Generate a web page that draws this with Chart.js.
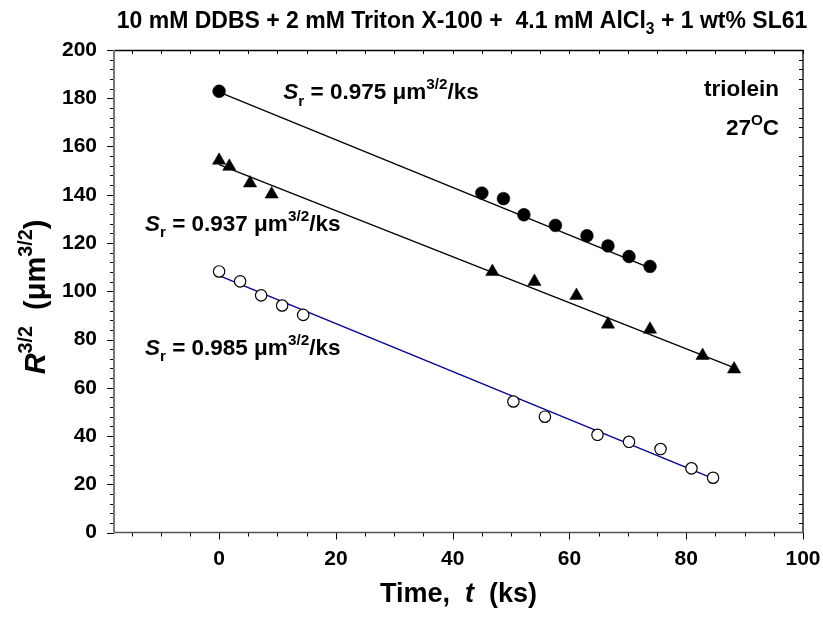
<!DOCTYPE html>
<html>
<head>
<meta charset="utf-8">
<script src="https://cdn.jsdelivr.net/npm/chart.js@4.4.0/dist/chart.umd.min.js"></script>
<style>
  body { margin: 0; background: #fff; }
  canvas { display: block; }
</style>
</head>
<body>
<canvas id="chart" width="823" height="625"></canvas>
<script>
// time (ks) and R^3/2 (um^3/2)
const filledT = [0, 45.0, 48.7, 52.2, 57.6, 63.0, 66.6, 70.2, 73.8];
const filledR = [182.9, 140.7, 138.4, 131.7, 127.3, 123.0, 118.8, 114.4, 110.3];

const triT = [0, 1.75, 5.3, 9.0, 46.8, 54.0, 61.2, 66.6, 73.8, 82.8, 88.2];
const triR = [154.2, 151.7, 144.8, 140.2, 108.1, 104.0, 98.2, 86.3, 84.2, 73.3, 67.7];

const openT = [0, 3.6, 7.2, 10.8, 14.4, 50.4, 55.8, 64.8, 70.2, 75.6, 80.9, 84.6];
const openR = [108.2, 104.1, 98.3, 94.1, 90.2, 54.3, 48.0, 40.5, 37.6, 34.6, 26.6, 22.7];

// fitted lines (end points)
const fitFilledT = [0, 74.5];
const fitFilledR = [182.5, 109.0];
const fitTriT = [0, 88.5];
const fitTriR = [152.5, 68.0];
const fitOpenT = [0, 85.5];
const fitOpenR = [106.5, 21.5];

const xTicks = [0, 20, 40, 60, 80, 100];
const yTicks = [0, 20, 40, 60, 80, 100, 120, 140, 160, 180, 200];
const xMin = -18, xMax = 100, xMinor = 5;
const yMin = 0, yMax = 200, yMinor = 4;

const FONT = '"Liberation Sans", Arial, Helvetica, sans-serif';

const pts = (xs, ys) => xs.map((x, i) => ({ x: x, y: ys[i] }));

// text with italic / sub / sup pieces
function richWidth(ctx, parts, size) {
  let w = 0;
  parts.forEach(p => {
    const s = (p.sub || p.sup) ? size * 0.68 : size;
    ctx.font = (p.it ? 'italic ' : '') + 'bold ' + s + 'px ' + FONT;
    w += ctx.measureText(p.t).width;
  });
  return w;
}
function drawRich(ctx, x, y, parts, size, align) {
  const w = richWidth(ctx, parts, size);
  let cx = align === 'right' ? x - w : align === 'center' ? x - w / 2 : x;
  ctx.textBaseline = 'alphabetic';
  ctx.textAlign = 'left';
  ctx.fillStyle = '#000';
  parts.forEach(p => {
    const s = (p.sub || p.sup) ? size * 0.68 : size;
    ctx.font = (p.it ? 'italic ' : '') + 'bold ' + s + 'px ' + FONT;
    let dy = 0;
    if (p.sub) dy = size * 0.28;
    if (p.sup) dy = -size * 0.45;
    ctx.fillText(p.t, cx, y + dy);
    cx += ctx.measureText(p.t).width;
  });
}

const srText = val => [
  { t: 'S', it: true }, { t: 'r', sub: true },
  { t: ' = ' + val + ' \u03BCm' }, { t: '3/2', sup: true }, { t: '/ks' }
];

// annotations anchored in data coordinates
const notes = [
  { t: 11.0, v: 179.5, parts: srText('0.975'), align: 'left' },
  { t: -12.7, v: 124.9, parts: srText('0.937'), align: 'left' },
  { t: -12.7, v: 73.7, parts: srText('0.985'), align: 'left' },
  { t: 95.9, v: 181.1, parts: [{ t: 'triolein' }], align: 'right' },
  { t: 95.9, v: 164.9, parts: [{ t: '27' }, { t: 'O', sup: true }, { t: 'C' }], align: 'right' }
];

const framePlugin = {
  id: 'frame',
  afterDraw(chart) {
    const ctx = chart.ctx;
    const a = chart.chartArea;
    const xs = chart.scales.x, ys = chart.scales.y;
    ctx.save();

    // ticks
    ctx.strokeStyle = '#000';
    ctx.lineWidth = 1;
    for (let v = -15; v <= xMax; v += xMinor) {
      const px = Math.round(xs.getPixelForValue(v)) + 0.5;
      const major = v >= 0 && v % 20 === 0;
      ctx.beginPath();
      ctx.moveTo(px, a.bottom);
      ctx.lineTo(px, a.bottom + (major ? 7 : 4));
      ctx.moveTo(px, a.top);
      ctx.lineTo(px, a.top + 4);
      ctx.stroke();
    }
    for (let v = yMin; v <= yMax; v += yMinor) {
      const py = Math.round(ys.getPixelForValue(v)) + 0.5;
      const major = v % 20 === 0;
      ctx.beginPath();
      ctx.moveTo(a.left, py);
      ctx.lineTo(a.left - (major ? 7 : 4), py);
      if (!major) {
        ctx.moveTo(a.right, py);
        ctx.lineTo(a.right - 4, py);
      }
      ctx.stroke();
    }

    // box
    ctx.lineWidth = 1.3;
    ctx.strokeStyle = '#000';
    ctx.beginPath();
    ctx.moveTo(a.left, a.top + 0.5);
    ctx.lineTo(a.right, a.top + 0.5);
    ctx.lineTo(a.right, a.bottom);
    ctx.stroke();
    ctx.strokeStyle = '#555';
    ctx.lineWidth = 1.6;
    ctx.beginPath();
    ctx.moveTo(a.right, a.bottom);
    ctx.lineTo(a.left, a.bottom);
    ctx.stroke();
    ctx.strokeStyle = '#777';
    ctx.lineWidth = 2;
    ctx.beginPath();
    ctx.moveTo(a.left, a.bottom);
    ctx.lineTo(a.left, a.top);
    ctx.stroke();

    // annotations
    notes.forEach(n => {
      drawRich(ctx, xs.getPixelForValue(n.t), ys.getPixelForValue(n.v), n.parts, 22.5, n.align);
    });

    // title
    drawRich(ctx, 462, 28, [
      { t: '10 mM DDBS + 2 mM Triton X-100 +  4.1 mM AlCl' }, { t: '3', sub: true },
      { t: ' + 1 wt% SL61' }
    ], 23, 'center');

    // x axis title
    drawRich(ctx, (a.left + a.right) / 2, 602, [
      { t: 'Time,  ' }, { t: 't', it: true }, { t: '  (ks)' }
    ], 27, 'center');

    // y axis title
    ctx.save();
    ctx.translate(45, 297);
    ctx.rotate(-Math.PI / 2);
    drawRich(ctx, 0, 0, [
      { t: 'R', it: true }, { t: '3/2', sup: true }, { t: '  (\u03BCm' }, { t: '3/2', sup: true }, { t: ')' }
    ], 29, 'center');
    ctx.restore();

    ctx.restore();
  }
};

new Chart(document.getElementById('chart'), {
  type: 'scatter',
  data: {
    datasets: [
      {
        data: pts(filledT, filledR), pointStyle: 'circle', pointRadius: 6.4,
        backgroundColor: '#000', borderColor: '#000', borderWidth: 0.5, order: 1
      },
      {
        data: pts(triT, triR), pointStyle: 'triangle', pointRadius: 7.7,
        backgroundColor: '#000', borderColor: '#000', borderWidth: 0.5, order: 1
      },
      {
        data: pts(openT, openR), pointStyle: 'circle', pointRadius: 5.7,
        backgroundColor: '#fff', borderColor: '#000', borderWidth: 1.2, order: 1
      },
      {
        data: pts(fitFilledT, fitFilledR), showLine: true, pointRadius: 0,
        borderColor: '#000', borderWidth: 1.3, order: 2
      },
      {
        data: pts(fitTriT, fitTriR), showLine: true, pointRadius: 0,
        borderColor: '#000', borderWidth: 1.3, order: 2
      },
      {
        data: pts(fitOpenT, fitOpenR), showLine: true, pointRadius: 0,
        borderColor: '#00008b', borderWidth: 1.3, order: 2
      }
    ]
  },
  options: {
    responsive: false,
    animation: false,
    events: [],
    layout: { padding: { left: 0, right: 20, top: 50, bottom: 0 } },
    plugins: { legend: { display: false }, tooltip: { enabled: false } },
    scales: {
      x: {
        type: 'linear', min: xMin, max: xMax,
        grid: { display: false, drawTicks: false },
        border: { display: false },
        afterBuildTicks: s => { s.ticks = xTicks.map(v => ({ value: v })); },
        afterFit: s => { s.height = 92.5; s.paddingLeft = 0; s.paddingRight = 0; },
        ticks: {
          padding: 14, color: '#000', autoSkip: false, maxRotation: 0,
          font: { family: FONT, size: 21, weight: 'bold' }
        }
      },
      y: {
        type: 'linear', min: yMin, max: yMax,
        grid: { display: false, drawTicks: false },
        border: { display: false },
        afterBuildTicks: s => { s.ticks = yTicks.map(v => ({ value: v })); },
        afterFit: s => { s.width = 114; s.paddingTop = 0; s.paddingBottom = 0; },
        ticks: {
          padding: 17, color: '#000', autoSkip: false,
          font: { family: FONT, size: 21, weight: 'bold' }
        }
      }
    }
  },
  plugins: [framePlugin]
});
</script>
</body>
</html>
